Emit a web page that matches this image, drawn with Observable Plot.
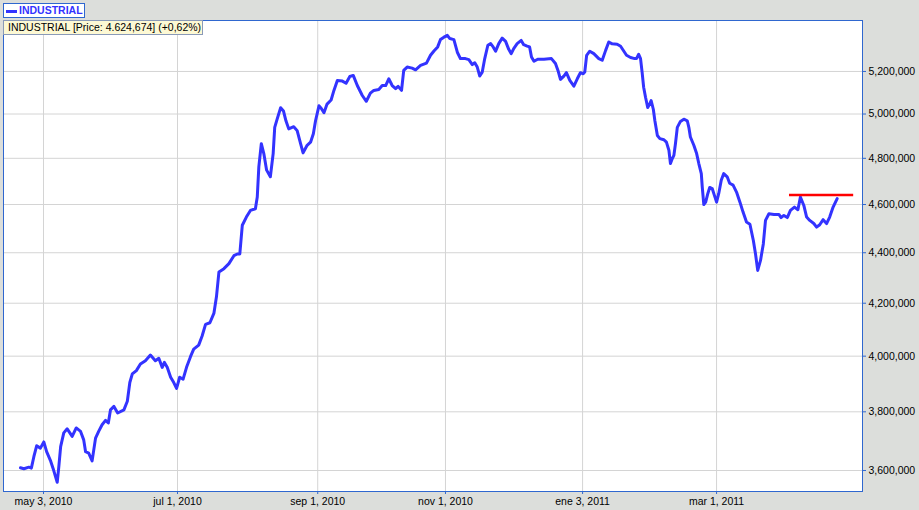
<!DOCTYPE html>
<html><head><meta charset="utf-8">
<script src="https://cdn.jsdelivr.net/npm/d3@7"></script>
<script src="https://cdn.jsdelivr.net/npm/@observablehq/plot@0.6"></script>
<style>
html,body{margin:0;padding:0;background:#dcdedb;}
#wrap{position:relative;width:919px;height:510px;overflow:hidden;background:#dcdedb;}
#chart svg{display:block;}
#legend{position:absolute;left:3px;top:3px;width:82px;height:15px;box-sizing:border-box;border:1px solid #2f67cf;background:#fff;}
#legend .dash{position:absolute;left:2px;top:6px;width:11px;height:3px;background:#3333ff;}
#legend .txt{position:absolute;left:15px;top:0px;line-height:13px;font:bold 10.5px "Liberation Sans",Arial,sans-serif;color:#3333ff;}
#tip{position:absolute;left:3px;top:20px;width:200px;height:15px;box-sizing:border-box;border:1px solid #8a9ab8;background:#fdf9d4;font:10.5px "Liberation Sans",Arial,sans-serif;color:#000;line-height:13px;padding-left:4px;white-space:nowrap;}
</style>
</head><body>
<div id="wrap">
<div id="chart"></div>
<div id="legend"><div class="dash"></div><div class="txt">INDUSTRIAL</div></div>
<div id="tip">INDUSTRIAL [Price: 4.624,674] (+0,62%)</div>
</div>
<script>
// trading-session index (0 = may 3, 2010)
const sessions = [
-7.4,-6.3,-4.7,-3.9,-3.1,-2.2,-1.0,0.1,1.0,2.2,
3.1,3.9,4.4,4.9,5.5,6.5,7.6,9.2,10.5,11.9,
12.9,13.5,14.5,15.6,16.7,17.7,18.8,19.9,20.8,21.5,
22.6,23.8,25.8,26.9,27.7,28.5,29.8,31.1,32.7,34.3,
35.9,37.0,38.1,38.8,39.7,40.8,41.8,42.7,43.7,44.8,
45.9,47.2,48.2,49.8,50.9,52.0,53.4,54.7,55.5,56.3,
57.9,59.5,61.1,62.2,63.0,63.8,65.1,66.4,68.0,68.6,
69.1,69.9,70.7,71.6,72.8,73.7,74.2,75.0,76.1,77.0,
77.8,78.7,80.3,81.4,82.5,83.3,84.6,85.7,86.6,87.3,
88.4,89.1,90.0,91.0,92.3,93.2,94.3,95.9,97.1,98.3,
99.4,100.7,102.3,103.6,104.9,106.0,107.6,108.7,109.8,110.8,
111.9,113.0,113.8,114.9,115.6,116.7,118.3,119.4,121.0,122.9,
124.2,125.3,126.5,127.4,128.5,129.6,130.4,131.7,132.8,133.8,
135.4,136.5,137.6,138.4,139.2,140.0,140.8,141.6,142.6,143.5,
144.3,145.1,146.1,147.2,148.3,149.3,150.1,150.9,152.0,153.3,
154.1,155.2,156.0,156.6,157.4,158.6,160.6,163.0,164.3,165.1,
165.9,167.0,167.8,168.9,170.2,171.3,172.3,173.2,173.7,174.3,
175.3,176.6,178.2,179.3,180.4,181.4,182.5,184.1,185.2,186.2,
187.1,188.4,189.7,190.3,191.0,191.6,192.1,192.6,193.2,193.9,
194.6,195.0,195.7,196.2,197.0,197.8,199.1,199.9,200.7,201.2,
201.8,202.3,202.8,203.4,204.4,205.5,206.6,207.1,207.6,208.7,
209.6,210.3,211.1,211.4,211.9,212.5,213.2,213.8,214.6,215.3,
216.0,216.7,217.5,218.3,219.4,220.2,221.3,222.4,223.5,224.5,
225.6,226.7,227.8,228.5,229.2,230.1,231.0,231.7,232.8,234.4,
236.0,236.7,237.6,238.7,239.7,241.0,242.1,242.9,244.0,244.9,
245.9,247.2,248.1,249.1,250.2,251.3,252.3,253.4,254.7
];
// INDUSTRIAL price, thousands
const closes = [
3609,3606,3611,3608,3646,3683,3675,3696,3663,3634,
3606,3578,3561,3611,3680,3727,3741,3715,3744,3732,
3703,3663,3658,3632,3709,3732,3755,3770,3761,3807,
3819,3796,3807,3837,3904,3935,3947,3971,3983,4004,
3983,3992,3959,3977,3959,3923,3904,3883,3923,3916,
3959,3999,4026,4041,4075,4119,4125,4162,4225,4323,
4336,4356,4388,4395,4395,4513,4547,4575,4582,4632,
4762,4865,4821,4748,4719,4821,4939,4978,5029,5014,
4969,4932,4942,4924,4865,4824,4858,4872,4910,4969,
5038,5027,5006,5046,5065,5110,5157,5154,5144,5176,
5181,5133,5086,5059,5097,5110,5114,5133,5133,5165,
5133,5118,5129,5110,5205,5221,5216,5208,5229,5240,
5278,5299,5319,5355,5367,5376,5360,5355,5293,5262,
5262,5257,5233,5242,5221,5178,5197,5262,5327,5335,
5319,5298,5335,5362,5346,5307,5286,5311,5335,5351,
5330,5323,5319,5270,5249,5259,5259,5262,5238,5205,
5162,5178,5194,5157,5130,5165,5194,5189,5197,5278,
5298,5286,5262,5254,5302,5343,5334,5332,5322,5299,
5278,5267,5262,5262,5283,5262,5197,5125,5078,5030,
5049,5062,5022,4969,4902,4888,4883,4872,4836,4777,
4799,4813,4865,4939,4966,4976,4969,4939,4895,4858,
4821,4777,4733,4675,4600,4610,4647,4673,4668,4639,
4610,4647,4704,4733,4719,4691,4683,4653,4610,4568,
4526,4517,4450,4395,4329,4369,4436,4533,4561,4558,
4558,4545,4554,4545,4575,4589,4578,4632,4596,4547,
4533,4520,4505,4515,4536,4520,4547,4589,4625
];
const yTicks = [3600000,3800000,4000000,4200000,4400000,4600000,4800000,5000000,5200000];
const xTickSessions = [0,43,88,129,173,216];
const xTickLabels = ["may 3, 2010","jul 1, 2010","sep 1, 2010","nov 1, 2010","ene 3, 2011","mar 1, 2011"];
const resistanceLevel = 4640000;
const resistanceStart = 239.4;
const resistanceEnd = 260.0;

const data = sessions.map((s,i)=>({s, v: closes[i]*1000}));
const labelOf = new Map(xTickSessions.map((s,i)=>[s, xTickLabels[i]]));
const blue = "#2f67cf";

const chart = Plot.plot({
  width: 919, height: 510,
  marginLeft: 3, marginRight: 57, marginTop: 20, marginBottom: 19,
  style: {background: "transparent", fontFamily: "'Liberation Sans', Arial, sans-serif", fontSize: "10.5px", color: "#000"},
  x: {domain: [-12.84, 262.83]},
  y: {type: "log", domain: [3531000, 5450000]},
  marks: [
    Plot.frame({fill: "white"}),
    Plot.ruleY(yTicks, {stroke: "#d4d4d4"}),
    Plot.ruleX(xTickSessions, {stroke: "#d4d4d4"}),
    Plot.line(data, {x: "s", y: "v", stroke: "#3333ff", strokeWidth: 3, strokeLinejoin: "round", strokeLinecap: "round"}),
    Plot.ruleY([resistanceLevel], {x1: resistanceStart, x2: resistanceEnd, stroke: "#ff0000", strokeWidth: 2.5}),
    Plot.frame({stroke: blue}),
    Plot.axisY(yTicks, {anchor: "right", tickSize: 3, tickPadding: 3, tickFormat: d3.format(","), stroke: blue, label: null}),
    Plot.axisX(xTickSessions, {anchor: "bottom", tickSize: 3, tickPadding: 3, tickFormat: d => labelOf.get(d), stroke: blue, label: null})
  ]
});
document.getElementById("chart").appendChild(chart);
</script>
</body></html>
